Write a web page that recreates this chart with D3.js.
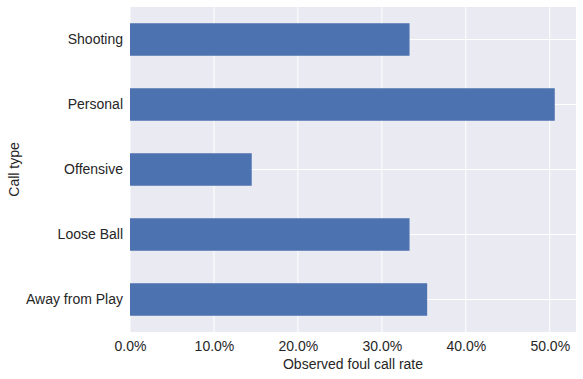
<!DOCTYPE html>
<html>
<head>
<meta charset="utf-8">
<script src="https://cdn.jsdelivr.net/npm/d3@7"></script>
<style>
  body { margin: 0; background: #fff; }
  text { font-family: "Liberation Sans", Arial, sans-serif; fill: #262626; }
</style>
</head>
<body>
<div id="grafico"></div>
<script>
// Datos de la gráfica
const categorias = ['Shooting', 'Personal', 'Offensive', 'Loose Ball', 'Away from Play'];
const tasas = [0.333, 0.506, 0.145, 0.333, 0.354];
const ticksX = [0, 0.1, 0.2, 0.3, 0.4, 0.5];

// Tamaño de la gráfica
const w = 583;
const h = 379;
const izq = 130, der = 576, arriba = 7, abajo = 332;

const svg = d3.select('#grafico')
  .append('svg')
  .attr('width', w)
  .attr('height', h);

// Escalas
const xScale = d3.scaleLinear()
  .domain([0, d3.max(tasas) * 1.05])
  .range([izq, der]);

const yScale = d3.scaleBand()
  .domain(categorias)
  .range([arriba, abajo])
  .paddingInner(0.5)
  .paddingOuter(0.25);

// Fondo del área
svg.append('rect')
  .attr('x', izq)
  .attr('y', arriba)
  .attr('width', der - izq)
  .attr('height', abajo - arriba)
  .attr('fill', '#EAEAF2');

// Rejilla vertical
svg.selectAll('.gridx')
  .data(ticksX)
  .enter()
  .append('line')
  .attr('x1', (d) => xScale(d))
  .attr('x2', (d) => xScale(d))
  .attr('y1', arriba)
  .attr('y2', abajo)
  .attr('stroke', '#fff')
  .attr('stroke-width', 1);

// Rejilla horizontal (centro de cada categoría)
svg.selectAll('.gridy')
  .data(categorias)
  .enter()
  .append('line')
  .attr('x1', izq)
  .attr('x2', der)
  .attr('y1', (d) => yScale(d) + yScale.bandwidth() / 2)
  .attr('y2', (d) => yScale(d) + yScale.bandwidth() / 2)
  .attr('stroke', '#fff')
  .attr('stroke-width', 1);

// Barras
svg.selectAll('.barra')
  .data(categorias)
  .enter()
  .append('rect')
  .attr('x', xScale(0))
  .attr('y', (d) => yScale(d))
  .attr('width', (d, i) => xScale(tasas[i]) - xScale(0))
  .attr('height', yScale.bandwidth())
  .attr('fill', '#4C72B0');

// Eje X
const ejeX = svg.append('g')
  .attr('transform', 'translate(0,' + abajo + ')')
  .call(d3.axisBottom(xScale).tickValues(ticksX).tickFormat(d3.format('.1%')).tickSize(0).tickPadding(9));
ejeX.select('.domain').remove();
ejeX.selectAll('text').style('font-size', '14px').style('font-family', '"Liberation Sans", Arial, sans-serif').attr('fill', '#262626');

// Eje Y
const ejeY = svg.append('g')
  .attr('transform', 'translate(' + izq + ',0)')
  .call(d3.axisLeft(yScale).tickSize(0).tickPadding(7));
ejeY.select('.domain').remove();
ejeY.selectAll('text').style('font-size', '14px').style('font-family', '"Liberation Sans", Arial, sans-serif').attr('fill', '#262626');

// Títulos de ejes
svg.append('text')
  .attr('x', (izq + der) / 2)
  .attr('y', 369)
  .attr('text-anchor', 'middle')
  .style('font-size', '14px')
  .text('Observed foul call rate');

svg.append('text')
  .attr('text-anchor', 'middle')
  .attr('transform', 'translate(19,' + (arriba + abajo) / 2 + ')rotate(-90)')
  .style('font-size', '14px')
  .text('Call type');
</script>
</body>
</html>
